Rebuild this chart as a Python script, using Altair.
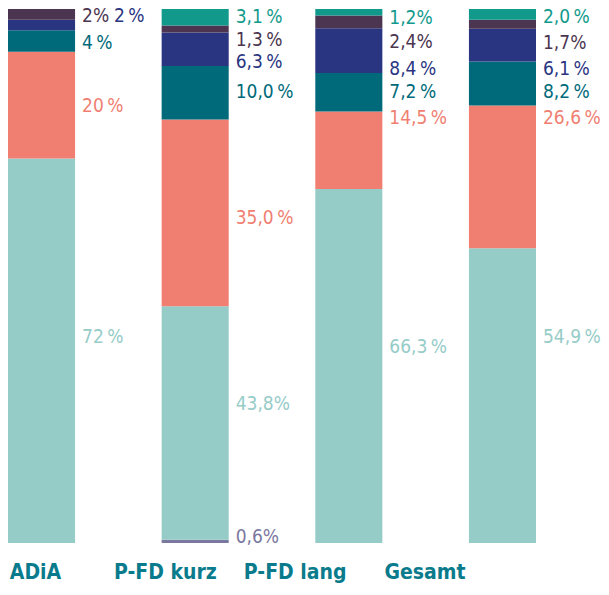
import altair as alt
import pandas as pd

# ---- data ----
categories = ["ADiA", "P-FD kurz", "P-FD lang", "Gesamt"]

# segments from bottom to top
segments = ["s0", "s1", "s2", "s3", "s4", "s5", "s6"]
seg_colors = ["#7B78A0", "#96CCC8", "#F07F72", "#006A7B", "#2A3581", "#4B3550", "#119A8C"]

values = {
    "s0": [0, 0.6, 0, 0],
    "s1": [72, 43.8, 66.3, 54.9],
    "s2": [20, 35.0, 14.5, 26.6],
    "s3": [4, 10.0, 7.2, 8.2],
    "s4": [2, 6.3, 8.4, 6.1],
    "s5": [2, 1.3, 2.4, 1.7],
    "s6": [0, 3.1, 1.2, 2.0],
}

T = "\u2009"  # thin space before the percent sign
labels = {
    "s0": [None, "0,6%", None, None],
    "s1": ["72" + T + "%", "43,8%", "66,3" + T + "%", "54,9" + T + "%"],
    "s2": ["20" + T + "%", "35,0" + T + "%", "14,5" + T + "%", "26,6" + T + "%"],
    "s3": ["4" + T + "%", "10,0" + T + "%", "7,2" + T + "%", "8,2" + T + "%"],
    "s4": ["2" + T + "%", "6,3" + T + "%", "8,4" + T + "%", "6,1" + T + "%"],
    "s5": ["2%", "1,3" + T + "%", "2,4%", "1,7%"],
    "s6": [None, "3,1" + T + "%", "1,2%", "2,0" + T + "%"],
}

# label anchor, in percent of the bar height (from the bottom)
label_at = {
    "s0": [None, 1.4, None, None],
    "s1": [38.8, 26.3, 36.9, 38.8],
    "s2": [82.1, 61.0, 79.7, 79.7],
    "s3": [93.8, 84.7, 84.7, 84.7],
    "s4": [98.8, 90.3, 89.0, 89.0],
    "s5": [98.8, 94.3, 94.0, 93.8],
    "s6": [None, 98.7, 98.5, 98.7],
}

rows = []
for si, seg in enumerate(segments):
    for ci, cat in enumerate(categories):
        v = values[seg][ci]
        if v:
            rows.append(dict(cat=cat, seg=seg, order=si, value=v,
                             label=labels[seg][ci], anchor=label_at[seg][ci] / 100))
df = pd.DataFrame(rows)

# labels sharing an anchor are set side by side
df["col"] = 0
for _, g in df.groupby(["cat", "anchor"]):
    if len(g) > 1:
        for k, idx in enumerate(g.sort_values("order", ascending=False).index):
            df.loc[idx, "col"] = k

FONT = "DejaVu Sans Condensed, DejaVu Sans, sans-serif"
W, H = 528, 534

color = alt.Color("seg:N", scale=alt.Scale(domain=segments, range=seg_colors), legend=None)
band_scale = alt.Scale(domain=categories, paddingInner=0.5635, paddingOuter=0, align=0)
xband = alt.X("cat:N", sort=categories, scale=band_scale, axis=None)
yscale = alt.Scale(domain=[0, 1], nice=False)

bars = alt.Chart(df).mark_bar().encode(
    x=xband,
    y=alt.Y("value:Q", stack="normalize", scale=yscale, axis=None),
    color=color,
    order=alt.Order("order:Q"),
)

text0 = alt.Chart(df).transform_filter("datum.col == 0").mark_text(
    align="left", baseline="middle", dx=74 - 33.5, dy=1, font=FONT, fontSize=19
).encode(x=xband, y=alt.Y("anchor:Q", scale=yscale, axis=None), text="label:N", color=color)

text1 = alt.Chart(df).transform_filter("datum.col == 1").mark_text(
    align="left", baseline="middle", dx=106 - 33.5, dy=1, font=FONT, fontSize=19
).encode(x=xband, y=alt.Y("anchor:Q", scale=yscale, axis=None), text="label:N", color=color)

plot = alt.layer(bars, text0, text1)

cat_axis = alt.Chart(pd.DataFrame({"cat": categories})).mark_point(opacity=0).encode(
    x=alt.X("cat:N", sort=categories,
            scale=alt.Scale(type="point", domain=categories, range=[27, 416.5], padding=0),
            axis=alt.Axis(title=None, orient="bottom", domain=False, ticks=False, tickSize=0,
                          grid=False, labelPadding=18, labelFont=FONT, labelFontSize=21,
                          labelFontWeight="bold", labelColor="#0A7B8C", labelAngle=0))
)

chart = alt.layer(plot, cat_axis).resolve_scale(x="independent").properties(
    width=W, height=H, autosize="none",
    padding={"left": 0, "top": 1, "right": 593 - W, "bottom": 40},
).configure_view(stroke=None)

chart.save("out.html", embed_options={"renderer": "svg", "actions": False})
